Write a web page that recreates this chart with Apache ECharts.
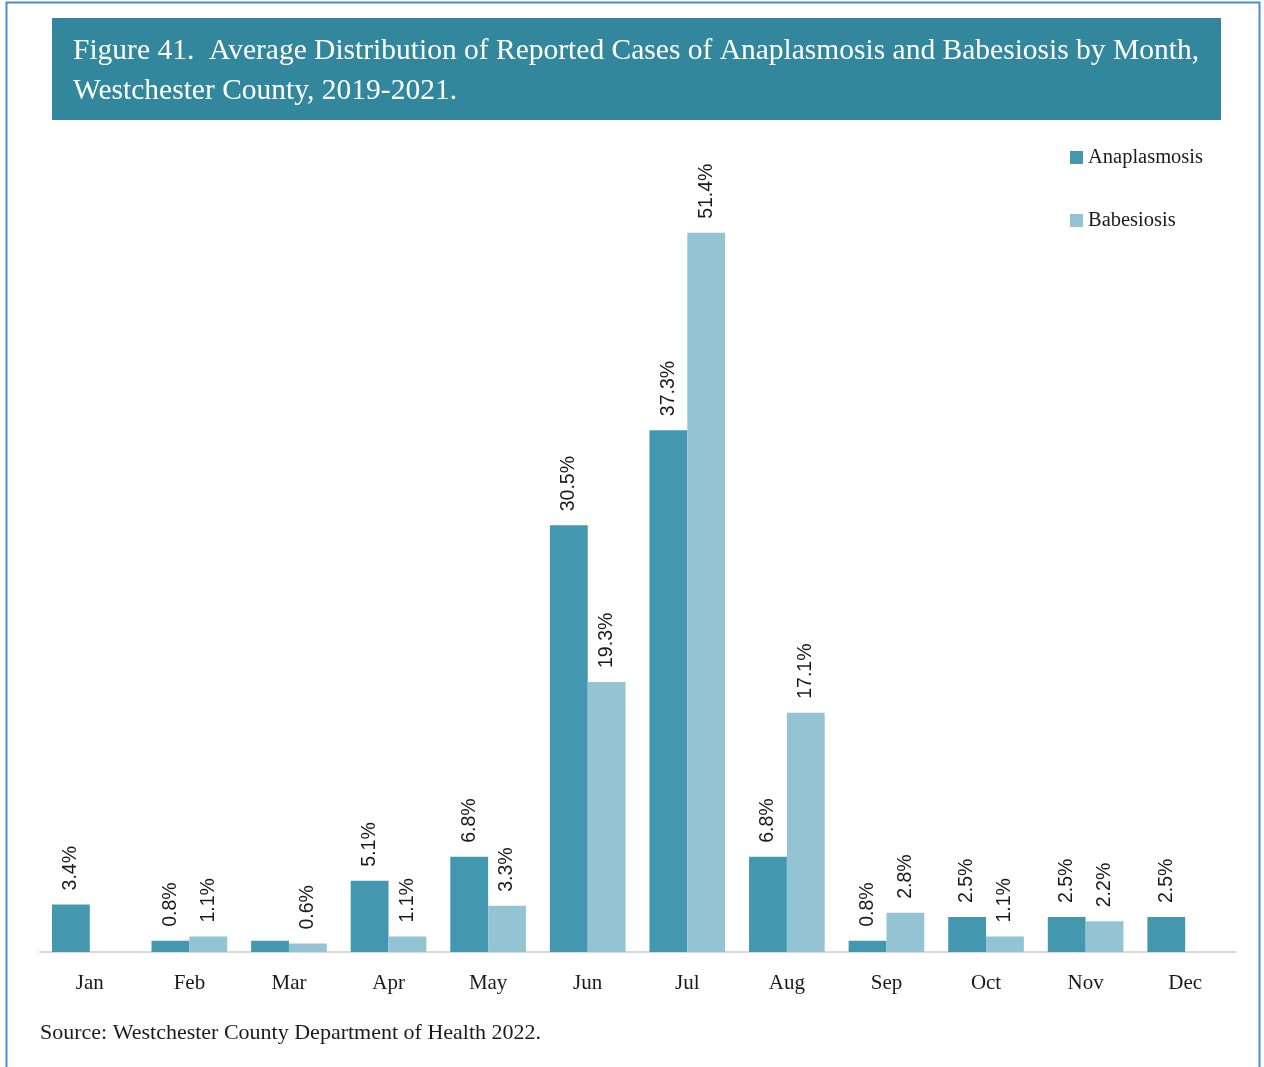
<!DOCTYPE html>
<html>
<head>
<meta charset="utf-8">
<script src="https://cdn.jsdelivr.net/npm/echarts@6/dist/echarts.min.js"></script>
<style>
  html, body { margin: 0; padding: 0; background: #ffffff; }
  #chart { width: 1264px; height: 1067px; }
</style>
</head>
<body>
<div id="chart"></div>
<script>
// Months along the x axis
const months = ['Jan', 'Feb', 'Mar', 'Apr', 'May', 'Jun', 'Jul', 'Aug', 'Sep', 'Oct', 'Nov', 'Dec'];
// Average share of reported cases by month (%)
const anaplasmosis = [3.4, 0.8, 0.8, 5.1, 6.8, 30.5, 37.3, 6.8, 0.8, 2.5, 2.5, 2.5];
const babesiosis = [null, 1.1, 0.6, 1.1, 3.3, 19.3, 51.4, 17.1, 2.8, 1.1, 2.2, null];
// Months whose anaplasmosis value carries no printed label
const anaplasmosisUnlabelled = ['Mar'];

const titleLines = [
  'Figure 41.  Average Distribution of Reported Cases of Anaplasmosis and Babesiosis by Month,',
  'Westchester County, 2019-2021.'
];
const sourceNote = 'Source: Westchester County Department of Health 2022.';

const serif = '"Liberation Serif", "DejaVu Serif", serif';
const sans = '"Liberation Sans", "DejaVu Sans", sans-serif';

const valueLabel = {
  show: true,
  position: 'top',
  rotate: 90,
  align: 'left',
  verticalAlign: 'middle',
  distance: 14,
  fontFamily: sans,
  fontSize: 19.5,
  color: '#1a1a1a',
  formatter: p => (p.value == null ? '' : p.value.toFixed(1) + '%')
};

const anapData = anaplasmosis.map((v, i) =>
  anaplasmosisUnlabelled.includes(months[i]) ? { value: v, label: { show: false } } : v
);

const chart = echarts.init(document.getElementById('chart'));
chart.setOption({
  animation: false,
  backgroundColor: '#ffffff',
  graphic: [
    {
      type: 'rect',
      shape: { x: 6.5, y: 2.5, width: 1253, height: 1080 },
      style: { fill: 'none', stroke: '#4a8ad4', lineWidth: 2 },
      silent: true
    },
    {
      type: 'rect',
      shape: { x: 52, y: 18, width: 1169, height: 102 },
      style: { fill: '#33879c' },
      silent: true
    },
    {
      type: 'text',
      left: 73,
      top: 31,
      style: {
        text: titleLines.join('\n'),
        fill: '#ffffff',
        font: '29.5px ' + serif,
        lineHeight: 40
      },
      silent: true
    },
    {
      type: 'text',
      left: 40,
      top: 1022,
      style: {
        text: sourceNote,
        fill: '#1a1a1a',
        font: '22px ' + serif
      },
      silent: true
    }
  ],
  legend: {
    orient: 'vertical',
    left: 1065,
    top: 142,
    itemWidth: 13,
    itemHeight: 13,
    itemGap: 42,
    icon: 'rect',
    textStyle: { fontFamily: serif, fontSize: 20.5, color: '#1a1a1a' },
    data: ['Anaplasmosis', 'Babesiosis']
  },
  grid: {
    left: 40,
    right: 29,
    top: 182.5,
    bottom: 115,
    containLabel: false
  },
  xAxis: {
    type: 'category',
    data: months,
    axisLine: { lineStyle: { color: '#d9d9d9', width: 2 } },
    axisTick: { show: false },
    axisLabel: {
      fontFamily: serif,
      fontSize: 21,
      color: '#1a1a1a',
      margin: 21
    }
  },
  yAxis: {
    type: 'value',
    min: 0,
    max: 55,
    show: false,
    splitLine: { show: false }
  },
  series: [
    {
      name: 'Anaplasmosis',
      type: 'bar',
      data: anapData,
      barGap: '0%',
      barCategoryGap: '24%',
      itemStyle: { color: '#4398b0' },
      label: valueLabel
    },
    {
      name: 'Babesiosis',
      type: 'bar',
      data: babesiosis,
      barGap: '0%',
      barCategoryGap: '24%',
      itemStyle: { color: '#94c4d4' },
      label: valueLabel
    }
  ]
});
</script>
</body>
</html>
